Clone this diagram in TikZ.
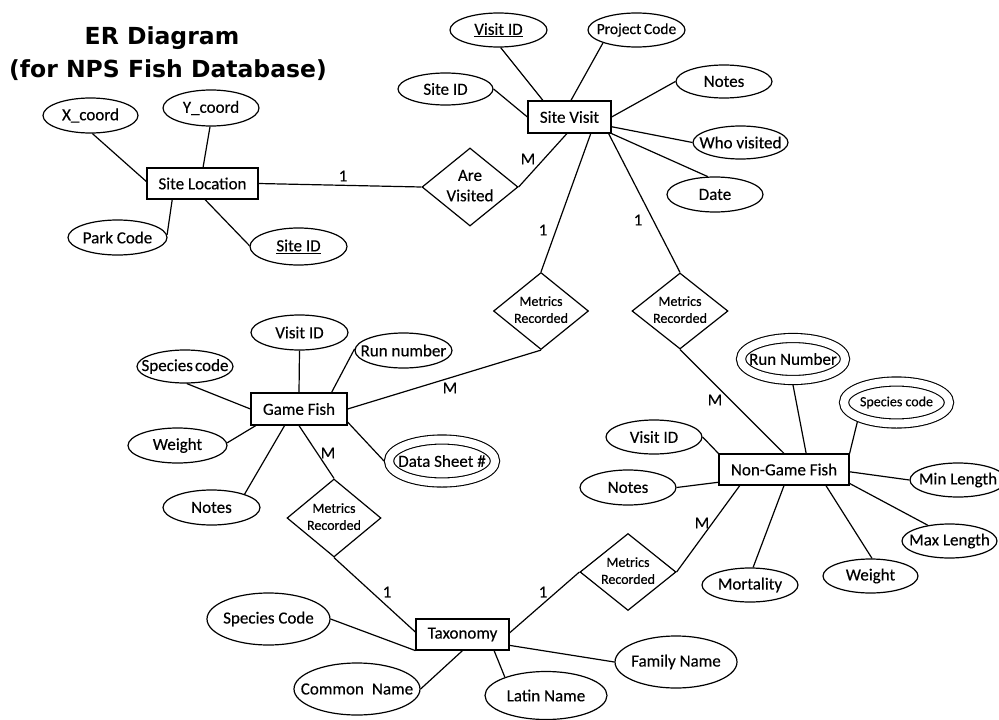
\documentclass[tikz,border=0pt]{standalone}
\usepackage{fontspec}
\setmainfont{Carlito}[FakeBold=0.3]
\newfontfamily\titlefont{DejaVu Sans}
\usetikzlibrary{shapes.geometric}

% label sizes
\newcommand\erlbl{\fontsize{17}{20.4}\selectfont}
\newcommand\ersml{\fontsize{14}{17}\selectfont}
% centred text that does not widen its shape
\newcommand\erc[1]{\makebox[0pt]{#1}}
\newcommand\ertwo[2]{\makebox[0pt]{\begin{tabular}{@{}c@{}}#1\\#2\end{tabular}}}

\begin{document}
\begin{tikzpicture}[x=1pt,y=-1pt,
  sz/.style 2 args={minimum width=#1pt, minimum height=#2pt},
  ent/.style={draw, line width=1.2pt, rectangle, inner sep=0pt, font=\erlbl},
  attr/.style={draw, line width=1.2pt, ellipse, inner sep=0pt, font=\erlbl},
  multi/.style={attr, double, double distance=8pt, line width=1.1pt, outer sep=5pt},
  rel/.style={draw, line width=1.2pt, diamond, inner sep=0pt, font=\ersml},
  link/.style={line width=1.2pt},
  card/.style={inner sep=0pt, font=\erlbl},
  ttl/.style={anchor=base, inner sep=0pt, font=\titlefont\bfseries\fontsize{23.5}{28}\selectfont}]

\useasboundingbox (0,0) rectangle (999,720);
\fill[white] (0,0) rectangle (999,720);

% title
\node[ttl] (t1) at (162,44) {ER Diagram};
\node[ttl] (t2) at (168,77) {(for NPS Fish Database)};

% entities
\node[ent, sz={111}{31}] (sl)  at (202.5,183.5) {Site Location};
\node[ent, sz={83}{32}]  (sv)  at (569.5,117)   {Site Visit};
\node[ent, sz={96}{32}]  (gf)  at (299,409)     {Game Fish};
\node[ent, sz={130}{31}] (ngf) at (784,469.5)   {Non-Game Fish};
\node[ent, sz={93}{31}]  (tx)  at (462.5,634.5) {Taxonomy};

% relationships
\node[rel, font=\erlbl, sz={96}{78}] (av) at (470,187) {\ertwo{Are}{Visited}};
\node[rel, sz={95}{77}] (mr1) at (541,311) {\ertwo{Metrics}{Recorded}};
\node[rel, sz={96}{76}] (mr2) at (680,311) {\ertwo{Metrics}{Recorded}};
\node[rel, sz={94}{78}] (mr3) at (334,518) {\ertwo{Metrics}{Recorded}};
\node[rel, sz={96}{77}] (mr4) at (628,572) {\ertwo{Metrics}{Recorded}};

% Site Location attributes
\node[attr, sz={95}{35}] (xc)  at (90.5,115.5) {\erc{X\_coord}};
\node[attr, sz={96}{36}] (yc)  at (211,108)    {\erc{Y\_coord}};
\node[attr, sz={99}{35}] (pk)  at (117.5,237.5){\erc{Park Code}};
\node[attr, sz={97}{37}] (sid) at (298.5,246.5){\erc{\underline{Site ID}}};

% Site Visit attributes
\node[attr, sz={97}{34}] (vid)  at (498.5,30)  {\erc{\underline{Visit ID}}};
\node[attr, sz={97}{34}, font=\fontsize{15.5}{18}\selectfont] (pc) at (636.5,30) {\erc{Project\kern-0.05em\ Code}};
\node[attr, sz={95}{32}] (sid2) at (445.5,89)  {\erc{Site ID}};
\node[attr, sz={96}{33}] (svn)  at (724,81.5)  {\erc{Notes}};
\node[attr, sz={95}{33}] (who)  at (740.5,142.5){\erc{Who visited}};
\node[attr, sz={96}{35}] (date) at (715,194.5) {\erc{Date}};

% Game Fish attributes
\node[attr, sz={97}{35}] (gvid) at (299.5,332.5) {\erc{Visit ID}};
\node[attr, sz={97}{35}] (run)  at (403.5,350.5) {\erc{Run number}};
\node[attr, sz={96}{33}] (gsc)  at (185,366.5)   {\erc{Species\kern-0.1em\ code}};
\node[attr, sz={99}{35}] (gw)   at (177.5,445.5) {\erc{Weight}};
\node[attr, sz={97}{35}] (gn)   at (211.5,507.5) {\erc{Notes}};
\node[multi, sz={106}{43}] (ds) at (442,461)     {\erc{Data Sheet \#}};

% Non-Game Fish attributes
\node[multi, sz={104}{42}] (rn)  at (793,359)     {\erc{Run Number}};
\node[multi, sz={105}{42}, font=\ersml] (nsc) at (896.5,402.5) {\erc{Species code}};
\node[attr, sz={96}{34}] (minl)  at (958,480)     {\erc{Min Length}};
\node[attr, sz={95}{34}] (maxl)  at (949.5,541)   {\erc{Max Length}};
\node[attr, sz={95}{34}] (nw)    at (870.5,576)   {\erc{Weight}};
\node[attr, sz={96}{34}] (mort)  at (750,585)     {\erc{Mortality}};
\node[attr, sz={96}{34}] (nvid)  at (654,437)     {\erc{Visit ID}};
\node[attr, sz={96}{35}] (nnote) at (628,487.5)   {\erc{Notes}};

% Taxonomy attributes
\node[attr, sz={123}{52}] (tsc) at (268.5,619) {\erc{Species Code}};
\node[attr, sz={126}{52}] (cn)  at (357,689)   {\erc{Common\kern0.25em\ Name}};
\node[attr, sz={122}{48}] (ln)  at (546,695.5) {\erc{Latin Name}};
\node[attr, sz={122}{52}] (fn)  at (676,662)   {\erc{Family Name}};

% relationship connectors
\draw[link] (sl.east) -- (av.west);
\draw[link] (av.east) -- (sv.-99);
\draw[link] (sv.-38) -- (mr1.north);
\draw[link] (sv.-23) -- (mr2.north);
\draw[link] (gf.east) -- (mr1.south);
\draw[link] (mr2.south) -- (ngf.north);
\draw[link] (gf.south) -- (mr3.north);
\draw[link] (mr3.south) -- (tx.177);
\draw[link] (tx.2) -- (mr4.west);
\draw[link] (mr4.east) -- (ngf.-160);

% attribute connectors
\draw[link] (xc.-84) -- (sl.178);
\draw[link] (yc.-93) -- (sl.88);
\draw[link] (pk.3) -- (sl.-152);
\draw[link] (sid.179) -- (sl.-81);

\draw[link] (vid.-83) -- (sv.148);
\draw[link] (pc.-159) -- (sv.85);
\draw[link] (sid2.east) -- (sv.west);
\draw[link] (svn.west) -- (sv.east);
\draw[link] (who.west) -- (sv.-13);
\draw[link] (date.112) -- (sv.south east);

\draw[link] (gvid.south) -- (gf.north);
\draw[link] (run.178) -- (gf.27);
\draw[link] (gsc.-84) -- (gf.west);
\draw[link] (gw.3) -- (gf.-159);
\draw[link] (gn.22) -- (gf.-131);
\draw[link] (gf.-15) -- (ds.west);

\draw[link] (rn.south) -- (ngf.36);
\draw[link] (nsc.-154) -- (ngf.north east);
\draw[link] (ngf.-2) -- (minl.west);
\draw[link] (ngf.-12) -- (maxl.144);
\draw[link] (ngf.-21) -- (nw.85);
\draw[link] (ngf.south) -- (mort.80);
\draw[link] (nvid.east) -- (ngf.north west);
\draw[link] (nnote.east) -- (ngf.-169);

\draw[link] (tsc.east) -- (tx.south west);
\draw[link] (cn.east) -- (tx.south);
\draw[link] (tx.-27) -- (ln.156);
\draw[link] (tx.-13) -- (fn.west);

% cardinalities
\node[card] (k1)  at (343,176) {1};
\node[card] (k2)  at (528,159) {M};
\node[card] (k3)  at (543,230) {1};
\node[card] (k4)  at (638,220) {1};
\node[card] (k5)  at (450,388) {M};
\node[card] (k6)  at (715,400) {M};
\node[card] (k7)  at (328,453) {M};
\node[card] (k8)  at (387,592) {1};
\node[card] (k9)  at (543,592) {1};
\node[card] (k10) at (702,523) {M};
\end{tikzpicture}
\end{document}
